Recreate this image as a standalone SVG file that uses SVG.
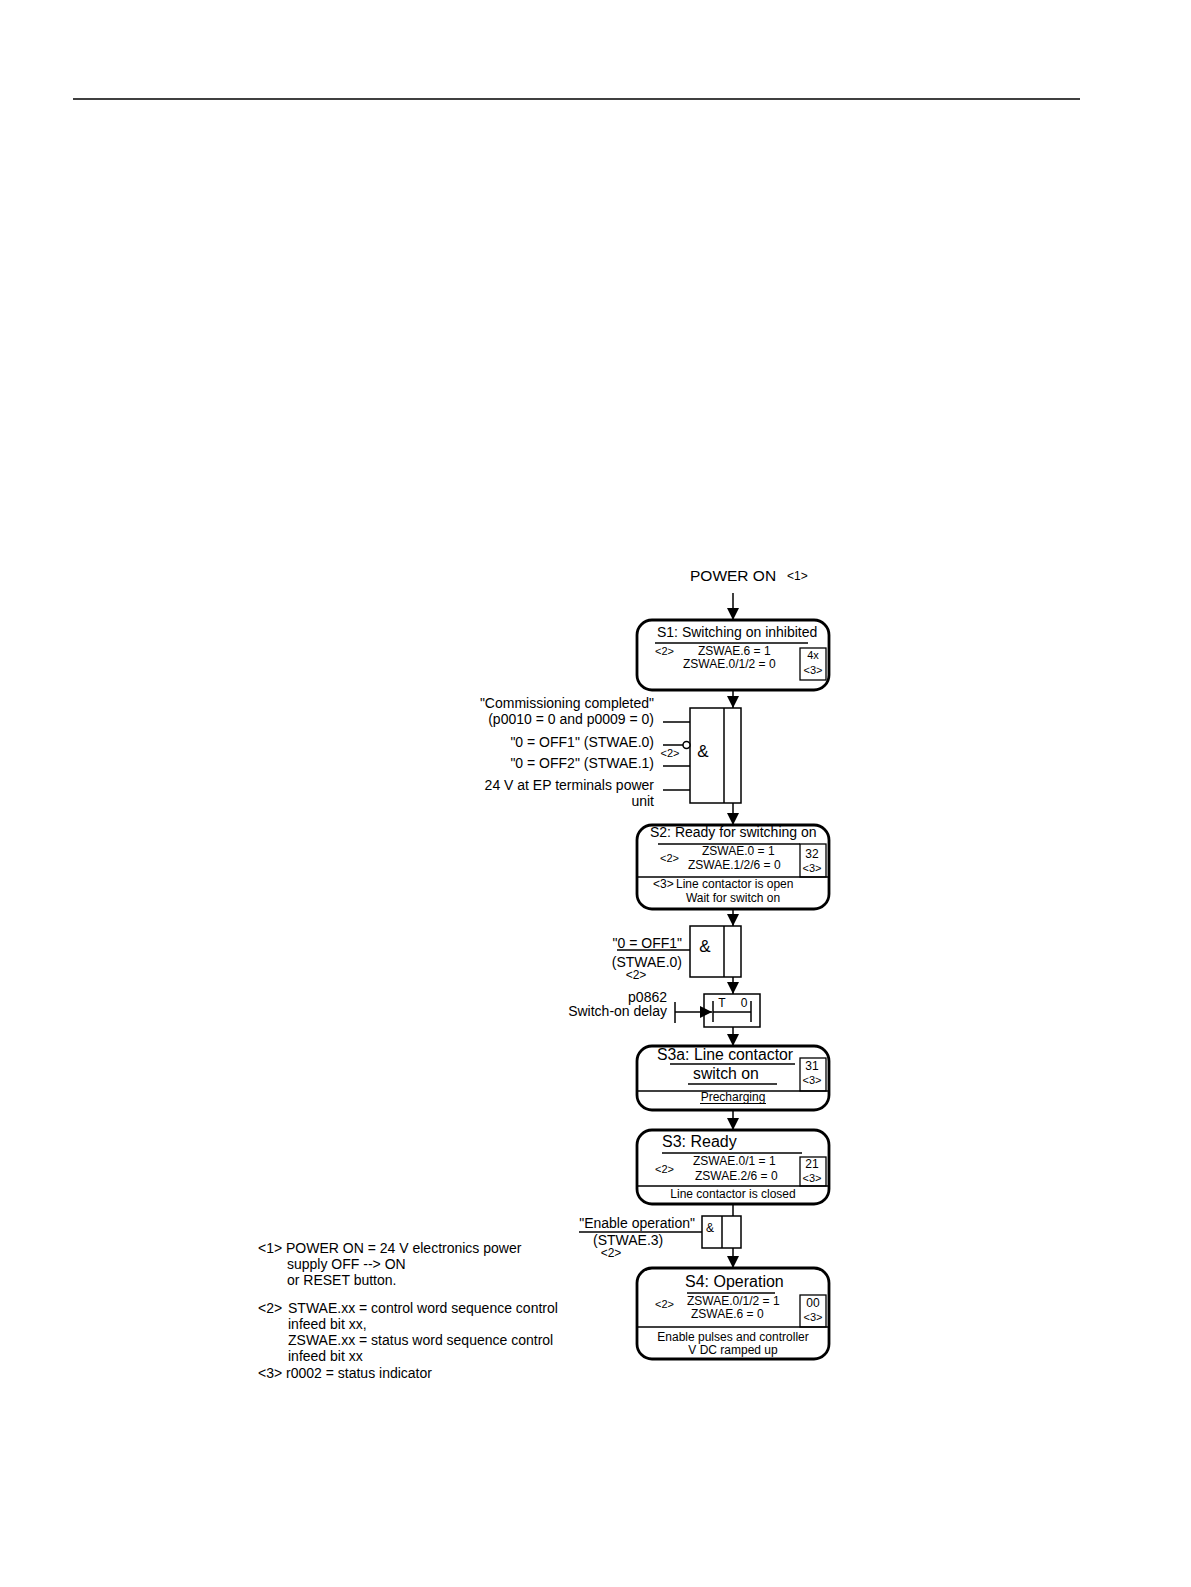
<svg xmlns="http://www.w3.org/2000/svg" width="1191" height="1587" viewBox="0 0 1191 1587">
<style>
text{font-family:"Liberation Sans",Arial,sans-serif;fill:#000}
.t14{font-size:14px}
.t12{font-size:12px}
.t11{font-size:11px}
.box{fill:#fff;stroke:#000;stroke-width:2.8}
.thin{fill:none;stroke:#000;stroke-width:1.3}
.ln{fill:none;stroke:#000;stroke-width:1.5}
.c{text-anchor:middle}
.e{text-anchor:end}
</style>
<defs>
<marker id="ah" markerUnits="userSpaceOnUse" markerWidth="12" markerHeight="12" refX="12" refY="6" orient="auto">
<path d="M0,0 L12,6 L0,12 z" fill="#000"/>
</marker>
</defs>
<rect width="1191" height="1587" fill="#fff"/>
<line x1="73" y1="99" x2="1080" y2="99" stroke="#000" stroke-width="1.5"/>

<g id="connectors" class="ln">
<path d="M733,593 V620" marker-end="url(#ah)"/>
<path d="M733,690 V708" marker-end="url(#ah)"/>
<path d="M733,803 V825" marker-end="url(#ah)"/>
<path d="M733,909 V926" marker-end="url(#ah)"/>
<path d="M733,977 V994" marker-end="url(#ah)"/>
<path d="M733,1027 V1046" marker-end="url(#ah)"/>
<path d="M733,1110 V1130" marker-end="url(#ah)"/>
<path d="M733,1204 V1216"/>
<path d="M733,1248 V1268" marker-end="url(#ah)"/>
<path d="M675,1012 H712" marker-end="url(#ah)"/>
<path d="M663,722 H690 M663,745 H683 M663,766 H690 M663,790 H690"/>
<path d="M617,950 H690"/>
<path d="M579,1232 H702"/>
<path d="M675,1002 V1023"/>
</g>

<g id="poweron">
<text x="690" y="581" style="font-size:15.5px">POWER ON</text>
<text x="787" y="580" class="t12">&lt;1&gt;</text>
</g>

<g id="s1">
<rect class="box" x="637" y="620" width="192" height="70" rx="15"/>
<text x="657" y="637" class="t14">S1: Switching on inhibited</text>
<line class="ln" x1="655" y1="643" x2="808" y2="643"/>
<text x="655" y="655" class="t11">&lt;2&gt;</text>
<text x="698" y="655" class="t12">ZSWAE.6 = 1</text>
<text x="683" y="668" class="t12">ZSWAE.0/1/2 = 0</text>
<rect class="thin" x="800" y="648" width="26" height="32"/>
<text x="813" y="659" class="t11 c">4x</text>
<text x="813" y="674" class="t11 c">&lt;3&gt;</text>
</g>

<g id="and1">
<rect class="ln" x="690" y="708" width="51" height="95"/>
<line class="ln" x1="724" y1="708" x2="724" y2="803"/>
<text x="703" y="757" class="c" style="font-size:17px">&amp;</text>
<circle cx="686.5" cy="745" r="3.5" fill="#fff" stroke="#000" stroke-width="1.5"/>
<text x="670" y="757" class="t11 c">&lt;2&gt;</text>
<text x="654" y="708" class="t14 e">"Commissioning completed"</text>
<text x="654" y="724" class="t14 e">(p0010 = 0 and p0009 = 0)</text>
<text x="654" y="747" class="t14 e">"0 = OFF1" (STWAE.0)</text>
<text x="654" y="768" class="t14 e">"0 = OFF2" (STWAE.1)</text>
<text x="654" y="790" class="t14 e">24 V at EP terminals power</text>
<text x="654" y="806" class="t14 e">unit</text>
</g>

<g id="s2">
<rect class="box" x="637" y="825" width="192" height="84" rx="15"/>
<text x="650" y="837" class="t14">S2: Ready for switching on</text>
<line class="ln" x1="658" y1="844" x2="800" y2="844"/>
<text x="660" y="862" class="t11">&lt;2&gt;</text>
<text x="702" y="855" class="t12">ZSWAE.0 = 1</text>
<text x="688" y="869" class="t12">ZSWAE.1/2/6 = 0</text>
<rect class="thin" x="800" y="844" width="26" height="33"/>
<text x="812" y="858" class="t12 c">32</text>
<text x="812" y="872" class="t11 c">&lt;3&gt;</text>
<line class="ln" x1="637" y1="877" x2="829" y2="877"/>
<text x="653" y="888" class="t12">&lt;3&gt;</text>
<text x="676" y="888" class="t12">Line contactor is open</text>
<text x="733" y="902" class="t12 c">Wait for switch on</text>
</g>

<g id="and2">
<rect class="ln" x="690" y="926" width="51" height="51"/>
<line class="ln" x1="724" y1="926" x2="724" y2="977"/>
<text x="705" y="952" class="c" style="font-size:17px">&amp;</text>
<text x="682" y="948" class="t14 e">"0 = OFF1"</text>
<text x="682" y="967" class="t14 e">(STWAE.0)</text>
<text x="636" y="979" class="t12 c">&lt;2&gt;</text>
</g>

<g id="timer">
<rect class="ln" x="704" y="994" width="56" height="33"/>
<path class="ln" d="M713,1001 V1022 M751,1001 V1022 M713,1012 H751"/>
<text x="722" y="1007" class="t12 c">T</text>
<text x="744" y="1007" class="t12 c">0</text>
<text x="667" y="1002" class="t14 e">p0862</text>
<text x="667" y="1016" class="t14 e">Switch-on delay</text>
</g>

<g id="s3a">
<rect class="box" x="637" y="1046" width="192" height="64" rx="15"/>
<text x="657" y="1060" style="font-size:15.8px">S3a: Line contactor</text>
<line class="ln" x1="670" y1="1064" x2="795" y2="1064"/>
<text x="693" y="1079" style="font-size:15.8px">switch on</text>
<line class="ln" x1="688" y1="1084" x2="777" y2="1084"/>
<rect class="thin" x="800" y="1058" width="26" height="33"/>
<text x="812" y="1070" class="t12 c">31</text>
<text x="812" y="1084" class="t11 c">&lt;3&gt;</text>
<line class="ln" x1="637" y1="1091" x2="829" y2="1091"/>
<text x="733" y="1101" class="t12 c">Precharging</text>
<line class="ln" x1="700" y1="1103.5" x2="766" y2="1103.5" style="stroke-width:1"/>
</g>

<g id="s3">
<rect class="box" x="637" y="1130" width="192" height="74" rx="15"/>
<text x="662" y="1147" style="font-size:16px">S3: Ready</text>
<line class="ln" x1="662" y1="1153" x2="802" y2="1153"/>
<text x="655" y="1173" class="t11">&lt;2&gt;</text>
<text x="693" y="1165" class="t12">ZSWAE.0/1 = 1</text>
<text x="695" y="1180" class="t12">ZSWAE.2/6 = 0</text>
<rect class="thin" x="800" y="1157" width="26" height="29"/>
<text x="812" y="1168" class="t12 c">21</text>
<text x="812" y="1182" class="t11 c">&lt;3&gt;</text>
<line class="ln" x1="637" y1="1186" x2="829" y2="1186"/>
<text x="733" y="1198" class="t12 c">Line contactor is closed</text>
</g>

<g id="and3">
<rect class="ln" x="702" y="1216" width="39" height="32"/>
<line class="ln" x1="722" y1="1216" x2="722" y2="1248"/>
<text x="710" y="1232" class="t12 c">&amp;</text>
<text x="695" y="1228" class="t14 e">"Enable operation"</text>
<text x="593" y="1245" class="t14">(STWAE.3)</text>
<text x="611" y="1257" class="t12 c">&lt;2&gt;</text>
</g>

<g id="s4">
<rect class="box" x="637" y="1268" width="192" height="91" rx="15"/>
<text x="685" y="1287" style="font-size:16px">S4: Operation</text>
<line class="ln" x1="687" y1="1293" x2="775" y2="1293"/>
<text x="655" y="1308" class="t11">&lt;2&gt;</text>
<text x="687" y="1305" class="t12">ZSWAE.0/1/2 = 1</text>
<text x="691" y="1318" class="t12">ZSWAE.6 = 0</text>
<rect class="thin" x="800" y="1295" width="26" height="32"/>
<text x="813" y="1307" class="t12 c">00</text>
<text x="813" y="1321" class="t11 c">&lt;3&gt;</text>
<line class="ln" x1="637" y1="1327" x2="829" y2="1327"/>
<text x="733" y="1341" class="t12 c">Enable pulses and controller</text>
<text x="733" y="1354" class="t12 c">V DC ramped up</text>
</g>

<g id="notes" class="t14">
<text x="258" y="1253">&lt;1&gt; POWER ON = 24 V electronics power</text>
<text x="287" y="1269">supply OFF --&gt; ON</text>
<text x="287" y="1285">or RESET button.</text>
<text x="258" y="1313">&lt;2&gt;</text>
<text x="288" y="1313">STWAE.xx = control word sequence control</text>
<text x="288" y="1329">infeed bit xx,</text>
<text x="288" y="1345">ZSWAE.xx = status word sequence control</text>
<text x="288" y="1361">infeed bit xx</text>
<text x="258" y="1378">&lt;3&gt; r0002 = status indicator</text>
</g>
</svg>
